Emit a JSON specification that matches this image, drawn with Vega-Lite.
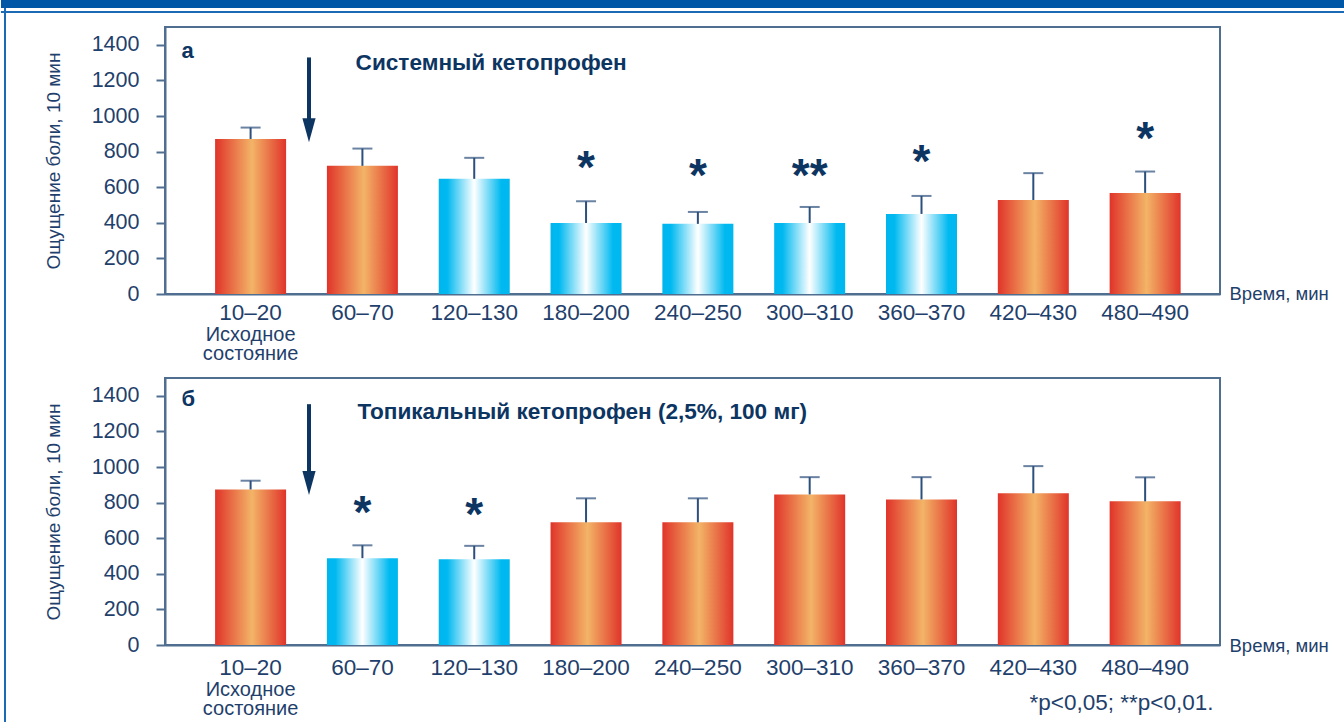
{
  "$schema": "https://vega.github.io/schema/vega-lite/v6.json",
  "padding": 0,
  "background": "white",
  "align": "none",
  "spacing": -6,
  "config": {
    "font": "Liberation Sans",
    "view": {"stroke": "#506e90", "strokeWidth": 2},
    "axis": {"labelFont": "Liberation Sans", "titleFont": "Liberation Sans", "grid": false},
    "axisY": {"labelOverlap": false}
  },
  "datasets": {
    "a": [
      {"cat": "10–20", "val": 871, "hi": 935, "grp": "o", "star": "", "sy": null},
      {"cat": "60–70", "val": 720, "hi": 817, "grp": "o", "star": "", "sy": null},
      {"cat": "120–130", "val": 647, "hi": 765, "grp": "b", "star": "", "sy": null},
      {"cat": "180–200", "val": 399, "hi": 521, "grp": "b", "star": "*", "sy": 737},
      {"cat": "240–250", "val": 394, "hi": 461, "grp": "b", "star": "*", "sy": 692},
      {"cat": "300–310", "val": 399, "hi": 489, "grp": "b", "star": "**", "sy": 692},
      {"cat": "360–370", "val": 450, "hi": 551, "grp": "b", "star": "*", "sy": 770},
      {"cat": "420–430", "val": 528, "hi": 679, "grp": "o", "star": "", "sy": null},
      {"cat": "480–490", "val": 568, "hi": 688, "grp": "o", "star": "*", "sy": 900}
    ],
    "b": [
      {"cat": "10–20", "val": 874, "hi": 923, "grp": "o", "star": "", "sy": null},
      {"cat": "60–70", "val": 488, "hi": 560, "grp": "b", "star": "*", "sy": 770},
      {"cat": "120–130", "val": 482, "hi": 557, "grp": "b", "star": "*", "sy": 757},
      {"cat": "180–200", "val": 689, "hi": 824, "grp": "o", "star": "", "sy": null},
      {"cat": "240–250", "val": 689, "hi": 824, "grp": "o", "star": "", "sy": null},
      {"cat": "300–310", "val": 846, "hi": 943, "grp": "o", "star": "", "sy": null},
      {"cat": "360–370", "val": 818, "hi": 943, "grp": "o", "star": "", "sy": null},
      {"cat": "420–430", "val": 852, "hi": 1005, "grp": "o", "star": "", "sy": null},
      {"cat": "480–490", "val": 807, "hi": 942, "grp": "o", "star": "", "sy": null}
    ]
  },
  "hconcat": [
    {
      "width": 2,
      "height": 722,
      "view": {"stroke": null, "fill": "#1a6ab6"},
      "data": {"values": []},
      "mark": {"type": "rule"},
      "encoding": {
        "y": {"datum": 0, "type": "quantitative", "scale": {"domain": [0, 1], "nice": false},
          "axis": {"values": [0], "labels": false, "domain": false, "title": null, "tickSize": 3.5, "tickOpacity": 0, "grid": false}}
      }
    },
    {
      "spacing": 12,
      "vconcat": [
        {
          "width": 1179,
          "height": 14,
          "view": {"stroke": null, "fill": "white"},
          "data": {"values": []},
          "mark": {"type": "rule"},
          "encoding": {
            "y": {
              "datum": 0,
              "type": "quantitative",
              "scale": {"domain": [0, 14], "reverse": true, "nice": false, "zero": false},
              "axis": {
                "values": [1, 3, 5, 7, 12],
                "tickCount": 20,
                "translate": 0,
                "grid": true,
                "gridOpacity": 1,
                "gridWidth": 2,
                "gridColor": {"condition": {"test": "datum.value == 12", "value": "#1a6ab6"}, "value": "#0057a5"},
                "ticks": true,
                "tickSize": 164,
                "tickWidth": 2,
                "tickColor": {"condition": {"test": "datum.value == 12", "value": "#1a6ab6"}, "value": "#0057a5"},
                "labels": false,
                "domain": false,
                "title": null
              }
            }
          }
        },
        {
          "width": 1055,
          "height": 267,
          "data": {"name": "a"},
          "resolve": {"axis": {"x": "independent"}},
          "layer": [
            {
              "mark": {"type": "bar"},
              "encoding": {
                "x": {
                  "field": "cat", "type": "nominal",
                  "scale": {"domain": ["10–20", "60–70", "120–130", "180–200", "240–250", "300–310", "360–370", "420–430", "480–490"], "paddingInner": 0.365, "paddingOuter": 0.4, "align": 0.56},
                  "axis": {"orient": "bottom", "title": "Время, мин", "titleX": 1064, "titleY": 5, "titleAlign": "left", "titleBaseline": "alphabetic", "titleFontSize": 18.5, "titleFontWeight": "normal", "titleColor": "#1f3f6c", "ticks": false, "labelFontSize": 22.5, "labelPadding": 7, "labelAngle": 0, "labelColor": "#1f3f6c", "domainColor": "#506e90", "domainWidth": 2}
                },
                "y": {
                  "field": "val", "type": "quantitative",
                  "scale": {"domain": [0, 1500], "nice": false},
                  "axis": {"title": "Ощущение боли, 10 мин", "values": [0, 200, 400, 600, 800, 1000, 1200, 1400], "tickCount": 20, "format": "d", "labelOverlap": false, "tickSize": 9, "tickWidth": 2, "tickColor": "#506e90", "domainColor": "#506e90", "domainWidth": 2, "labelFontSize": 21.5, "labelColor": "#1f3f6c", "labelPadding": 17, "titleFontSize": 19, "titleFontWeight": "normal", "titleColor": "#1f3f6c", "titlePadding": 28}
                },
                "color": {
                  "condition": {"test": "datum.grp === 'b'", "value": {"gradient": "linear", "x1": 0, "y1": 0, "x2": 1, "y2": 0, "stops": [{"offset": 0, "color": "#00b5ee"}, {"offset": 0.12, "color": "#00b9f0"}, {"offset": 0.5, "color": "#ffffff"}, {"offset": 0.88, "color": "#00b9f0"}, {"offset": 1, "color": "#00b8ef"}]}},
                  "value": {"gradient": "linear", "x1": 0, "y1": 0, "x2": 1, "y2": 0, "stops": [{"offset": 0, "color": "#e0342a"}, {"offset": 0.52, "color": "#f3b467"}, {"offset": 1, "color": "#e0342a"}]}
                }
              }
            },
            {
              "mark": {"type": "rule", "color": "#2c4f7c", "strokeWidth": 2},
              "encoding": {
                "x": {"field": "cat", "type": "nominal",
                  "axis": {"orient": "bottom", "labelExpr": "datum.value === '10–20' ? ['Исходное', 'состояние'] : ''", "ticks": false, "domain": false, "labelFontSize": 20, "labelLineHeight": 19.5, "labelPadding": 30, "labelAngle": 0, "labelColor": "#1f3f6c", "title": null}},
                "y": {"field": "val", "type": "quantitative"},
                "y2": {"field": "hi"}
              }
            },
            {
              "mark": {"type": "tick", "color": "#2c4f7c", "size": 20, "thickness": 2},
              "encoding": {
                "x": {"field": "cat", "type": "nominal", "axis": null},
                "y": {"field": "hi", "type": "quantitative"}
              }
            },
            {
              "mark": {"type": "text", "fontSize": 46, "fontWeight": "bold", "color": "#0d3562", "baseline": "middle", "dy": 6},
              "encoding": {
                "x": {"field": "cat", "type": "nominal", "axis": null},
                "y": {"field": "sy", "type": "quantitative"},
                "text": {"field": "star"}
              }
            },
            {
              "data": {"values": [{}]},
              "mark": {"type": "rule", "color": "#0d3562", "strokeWidth": 4, "xOffset": 58.4},
              "encoding": {
                "x": {"datum": "10–20", "type": "nominal", "axis": null},
                "y": {"datum": 1329, "type": "quantitative"},
                "y2": {"datum": 980}
              }
            },
            {
              "data": {"values": [{}]},
              "mark": {"type": "point", "shape": "M-0.55,-1L0.55,-1L0,1Z", "size": 576, "filled": true, "opacity": 1, "color": "#0d3562", "xOffset": 58.4},
              "encoding": {
                "x": {"datum": "10–20", "type": "nominal", "axis": null},
                "y": {"datum": 920, "type": "quantitative"}
              }
            },
            {
              "data": {"values": [{}]},
              "mark": {"type": "text", "align": "left", "baseline": "alphabetic", "fontSize": 22, "fontWeight": "bold", "color": "#0d3562", "dx": -69},
              "encoding": {
                "x": {"datum": "10–20", "type": "nominal", "axis": null},
                "y": {"datum": 1327, "type": "quantitative"},
                "text": {"value": "а"}
              }
            },
            {
              "data": {"values": [{}]},
              "mark": {"type": "text", "align": "left", "baseline": "alphabetic", "fontSize": 22.6, "fontWeight": "bold", "color": "#0d3562", "dx": 105},
              "encoding": {
                "x": {"datum": "10–20", "type": "nominal", "axis": null},
                "y": {"datum": 1259, "type": "quantitative"},
                "text": {"value": "Системный кетопрофен"}
              }
            }
          ]
        },
        {
          "width": 1055,
          "height": 267,
          "data": {"name": "b"},
          "resolve": {"axis": {"x": "independent"}},
          "layer": [
            {
              "mark": {"type": "bar"},
              "encoding": {
                "x": {
                  "field": "cat", "type": "nominal",
                  "scale": {"domain": ["10–20", "60–70", "120–130", "180–200", "240–250", "300–310", "360–370", "420–430", "480–490"], "paddingInner": 0.365, "paddingOuter": 0.4, "align": 0.56},
                  "axis": {"orient": "bottom", "title": "Время, мин", "titleX": 1064, "titleY": 6, "titleAlign": "left", "titleBaseline": "alphabetic", "titleFontSize": 18.5, "titleFontWeight": "normal", "titleColor": "#1f3f6c", "ticks": false, "labelFontSize": 22.5, "labelPadding": 11, "labelAngle": 0, "labelColor": "#1f3f6c", "domainColor": "#506e90", "domainWidth": 2}
                },
                "y": {
                  "field": "val", "type": "quantitative",
                  "scale": {"domain": [0, 1500], "nice": false},
                  "axis": {"title": "Ощущение боли, 10 мин", "values": [0, 200, 400, 600, 800, 1000, 1200, 1400], "tickCount": 20, "format": "d", "labelOverlap": false, "tickSize": 9, "tickWidth": 2, "tickColor": "#506e90", "domainColor": "#506e90", "domainWidth": 2, "labelFontSize": 21.5, "labelColor": "#1f3f6c", "labelPadding": 17, "titleFontSize": 19, "titleFontWeight": "normal", "titleColor": "#1f3f6c", "titlePadding": 28}
                },
                "color": {
                  "condition": {"test": "datum.grp === 'b'", "value": {"gradient": "linear", "x1": 0, "y1": 0, "x2": 1, "y2": 0, "stops": [{"offset": 0, "color": "#00b5ee"}, {"offset": 0.12, "color": "#00b9f0"}, {"offset": 0.5, "color": "#ffffff"}, {"offset": 0.88, "color": "#00b9f0"}, {"offset": 1, "color": "#00b8ef"}]}},
                  "value": {"gradient": "linear", "x1": 0, "y1": 0, "x2": 1, "y2": 0, "stops": [{"offset": 0, "color": "#e0342a"}, {"offset": 0.52, "color": "#f3b467"}, {"offset": 1, "color": "#e0342a"}]}
                }
              }
            },
            {
              "mark": {"type": "rule", "color": "#2c4f7c", "strokeWidth": 2},
              "encoding": {
                "x": {"field": "cat", "type": "nominal",
                  "axis": {"orient": "bottom", "labelExpr": "datum.value === '10–20' ? ['Исходное', 'состояние'] : ''", "ticks": false, "domain": false, "labelFontSize": 20, "labelLineHeight": 19.5, "labelPadding": 34, "labelAngle": 0, "labelColor": "#1f3f6c", "title": "*p<0,05; **p<0,01.", "titleX": 1048, "titleY": 64, "titleAlign": "right", "titleBaseline": "alphabetic", "titleFontSize": 22.5, "titleFontWeight": "normal", "titleColor": "#1f3f6c"}},
                "y": {"field": "val", "type": "quantitative"},
                "y2": {"field": "hi"}
              }
            },
            {
              "mark": {"type": "tick", "color": "#2c4f7c", "size": 20, "thickness": 2},
              "encoding": {
                "x": {"field": "cat", "type": "nominal", "axis": null},
                "y": {"field": "hi", "type": "quantitative"}
              }
            },
            {
              "mark": {"type": "text", "fontSize": 46, "fontWeight": "bold", "color": "#0d3562", "baseline": "middle", "dy": 6},
              "encoding": {
                "x": {"field": "cat", "type": "nominal", "axis": null},
                "y": {"field": "sy", "type": "quantitative"},
                "text": {"field": "star"}
              }
            },
            {
              "data": {"values": [{}]},
              "mark": {"type": "rule", "color": "#0d3562", "strokeWidth": 4, "xOffset": 58.4},
              "encoding": {
                "x": {"datum": "10–20", "type": "nominal", "axis": null},
                "y": {"datum": 1353, "type": "quantitative"},
                "y2": {"datum": 965}
              }
            },
            {
              "data": {"values": [{}]},
              "mark": {"type": "point", "shape": "M-0.55,-1L0.55,-1L0,1Z", "size": 576, "filled": true, "opacity": 1, "color": "#0d3562", "xOffset": 58.4},
              "encoding": {
                "x": {"datum": "10–20", "type": "nominal", "axis": null},
                "y": {"datum": 910, "type": "quantitative"}
              }
            },
            {
              "data": {"values": [{}]},
              "mark": {"type": "text", "align": "left", "baseline": "alphabetic", "fontSize": 22, "fontWeight": "bold", "color": "#0d3562", "dx": -69},
              "encoding": {
                "x": {"datum": "10–20", "type": "nominal", "axis": null},
                "y": {"datum": 1340, "type": "quantitative"},
                "text": {"value": "б"}
              }
            },
            {
              "data": {"values": [{}]},
              "mark": {"type": "text", "align": "left", "baseline": "alphabetic", "fontSize": 22.6, "fontWeight": "bold", "color": "#0d3562", "dx": 107},
              "encoding": {
                "x": {"datum": "10–20", "type": "nominal", "axis": null},
                "y": {"datum": 1272, "type": "quantitative"},
                "text": {"value": "Топикальный кетопрофен (2,5%, 100 мг)"}
              }
            }
          ]
        }
      ]
    }
  ]
}
